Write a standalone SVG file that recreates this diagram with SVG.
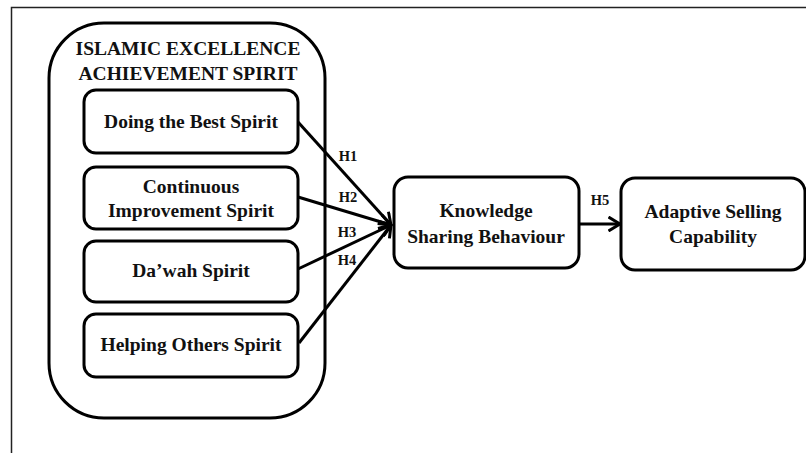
<svg xmlns="http://www.w3.org/2000/svg" width="806" height="453" viewBox="0 0 806 453">
<style>
.box{fill:#fff;stroke:#000;stroke-width:3}
.t{font-family:"Liberation Serif","Times New Roman",serif;font-weight:bold;font-size:19.5px;fill:#111;text-anchor:middle}
.h{font-family:"Liberation Serif","Times New Roman",serif;font-weight:bold;font-size:14.5px;fill:#111;text-anchor:middle}
.c{fill:none;stroke:#000;stroke-width:3}
</style>
<defs>
<marker id="arr" markerUnits="userSpaceOnUse" viewBox="0 0 14 16" refX="12.5" refY="8" markerWidth="14" markerHeight="16" orient="auto">
<path d="M1,1 L12.5,8 L1,15" fill="none" stroke="#000" stroke-width="3" stroke-linejoin="miter"/>
</marker>
</defs>
<rect width="806" height="453" fill="#fff"/>
<path d="M11.5,453 V7.5 H806" fill="none" stroke="#222" stroke-width="1.5"/>
<g id="container">
<rect class="box" x="49" y="23" width="276" height="395" rx="55" ry="55"/>
<text class="t" x="188" y="55">ISLAMIC EXCELLENCE</text>
<text class="t" x="188" y="80">ACHIEVEMENT  SPIRIT</text>
</g>
<g id="doing-best">
<rect class="box" x="84" y="90" width="214" height="63" rx="12"/>
<text class="t" x="191" y="128">Doing the Best Spirit</text>
</g>
<g id="continuous">
<rect class="box" x="84" y="167" width="214" height="62" rx="12"/>
<text class="t" x="191" y="193">Continuous</text>
<text class="t" x="191" y="217">Improvement  Spirit</text>
</g>
<g id="dawah">
<rect class="box" x="84" y="241" width="214" height="61" rx="12"/>
<text class="t" x="191" y="277">Da’wah  Spirit</text>
</g>
<g id="helping">
<rect class="box" x="84" y="314" width="214" height="63" rx="12"/>
<text class="t" x="191" y="351">Helping  Others Spirit</text>
</g>
<g id="knowledge">
<rect class="box" x="394" y="177" width="185" height="91" rx="14"/>
<text class="t" x="486" y="217">Knowledge</text>
<text class="t" x="486" y="243">Sharing  Behaviour</text>
</g>
<g id="adaptive">
<rect class="box" x="621" y="178" width="184" height="92" rx="14"/>
<text class="t" x="713" y="218">Adaptive  Selling</text>
<text class="t" x="713" y="243">Capability</text>
</g>
<g id="connectors">
<line class="c" x1="298" y1="122" x2="391" y2="225" marker-end="url(#arr)"/>
<line class="c" x1="298" y1="197" x2="391" y2="225" marker-end="url(#arr)"/>
<line class="c" x1="298" y1="269" x2="391" y2="225" marker-end="url(#arr)"/>
<line class="c" x1="299" y1="343" x2="391" y2="225" marker-end="url(#arr)"/>
<line class="c" x1="580" y1="224" x2="620" y2="224" marker-end="url(#arr)"/>
<text class="h" x="348" y="161">H1</text>
<text class="h" x="348" y="202">H2</text>
<text class="h" x="347" y="237">H3</text>
<text class="h" x="347" y="265">H4</text>
<text class="h" x="600" y="205">H5</text>
</g>
</svg>
